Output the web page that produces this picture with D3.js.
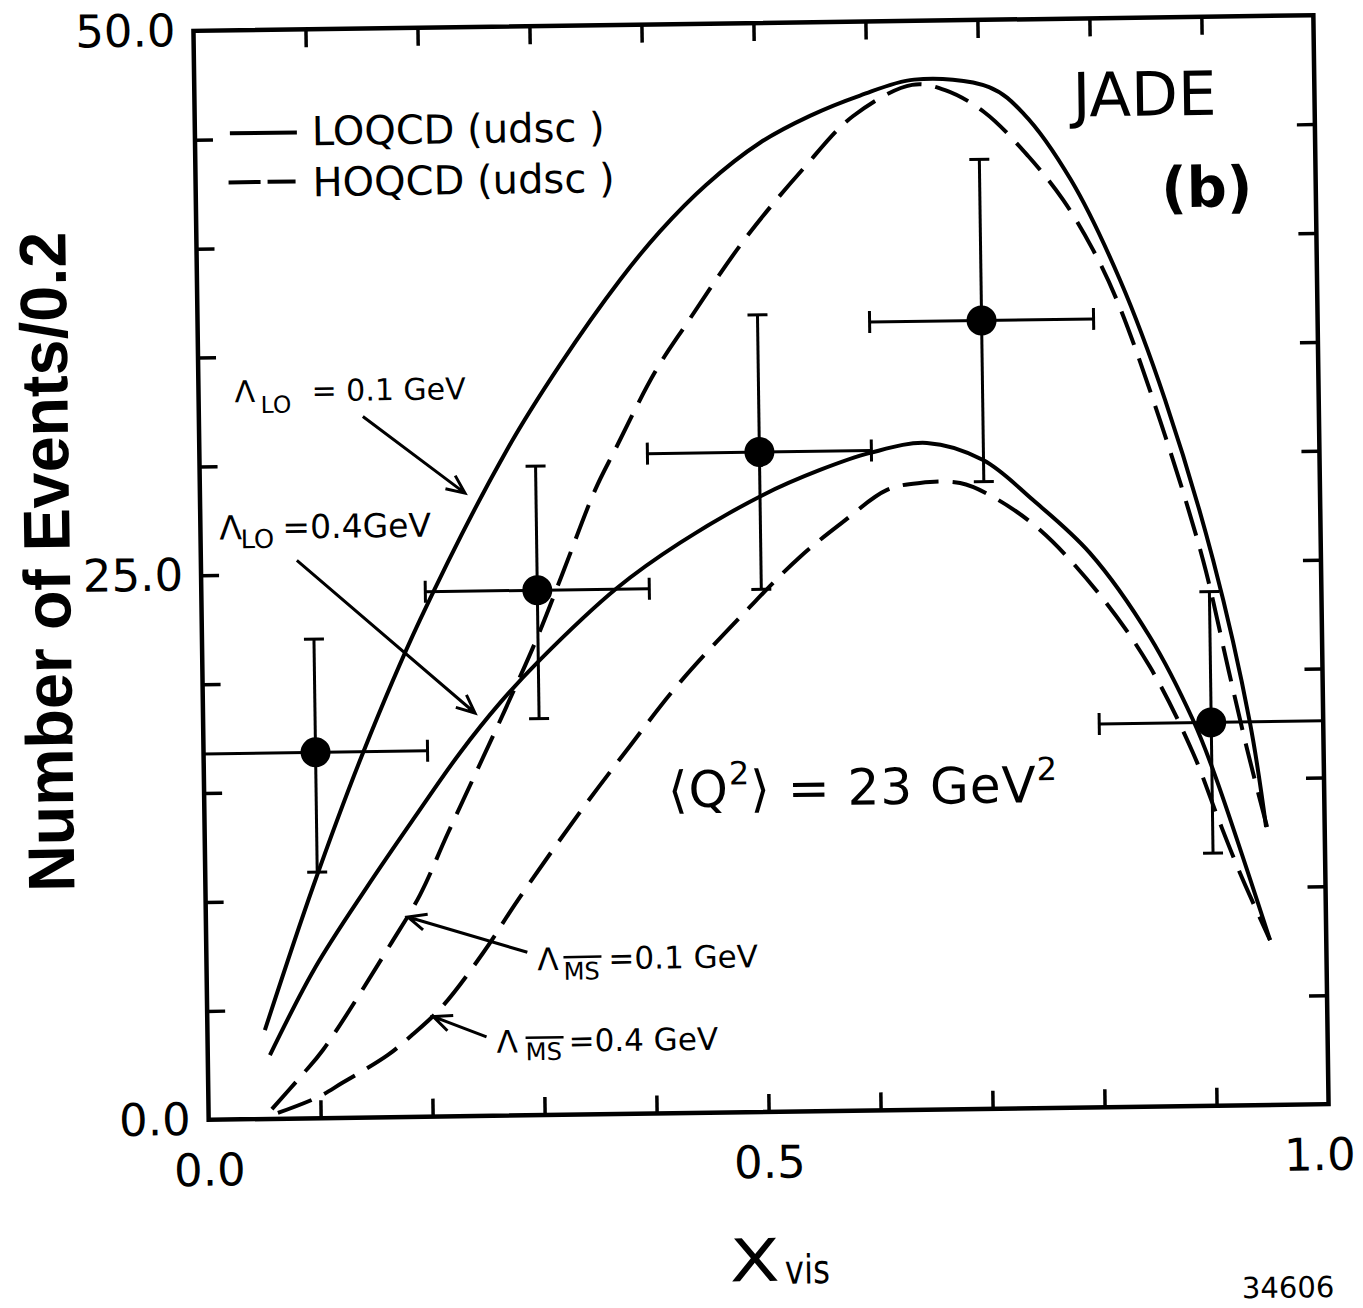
<!DOCTYPE html>
<html>
<head>
<meta charset="utf-8">
<script src="https://cdn.jsdelivr.net/npm/d3@7"></script>
<style>
	body { margin: 0; background: white; }
	svg { display: block; background: white; }
	text { font-family: "DejaVu Sans", sans-serif; fill: black; }
</style>
</head>
<body>
<svg id="chart" width="1363" height="1308"></svg>
<script>
// Measured points (X_vis, events / 0.2)
const pointX = [0.1, 0.3, 0.5, 0.7, 0.9];
const pointY = [16.8, 24.1, 30.3, 36.2, 17.6];
const pointYLow = [11.3, 18.2, 24.0, 28.8, 11.6];
const pointYHigh = [22.0, 29.8, 36.6, 43.6, 23.6];
const pointXLow = [0.0, 0.2, 0.4, 0.6, 0.8];
const pointXHigh = [0.2, 0.4, 0.6, 0.8, 1.0];

// LOQCD, Lambda_LO = 0.1 GeV (solid)
const lo01X = [0.0513, 0.0960, 0.1423, 0.1949, 0.2746, 0.3230, 0.3777, 0.4140, 0.4557, 0.5044, 0.5493, 0.5943, 0.6428, 0.7096, 0.7404, 0.7816, 0.8241, 0.8629, 0.9037, 0.9346, 0.9477];
const lo01Y = [4.08, 10.62, 16.74, 22.81, 30.56, 34.43, 38.29, 40.5, 42.6, 44.5, 45.7, 46.6, 47.3, 46.91, 45.65, 42.59, 37.97, 32.43, 25.05, 17.55, 12.76];

// HOQCD, Lambda_MS = 0.1 GeV (dashed)
const ho01X = [0.0566, 0.0838, 0.1029, 0.1658, 0.1914, 0.2172, 0.2696, 0.2991, 0.3222, 0.3528, 0.3711, 0.4078, 0.4370, 0.4897, 0.5425, 0.5879, 0.6409, 0.6703, 0.7048, 0.7436, 0.7743, 0.8004, 0.8221, 0.8580, 0.8947, 0.9165, 0.9325, 0.9486];
const ho01Y = [0.45, 1.99, 3.13, 8.04, 10.18, 13.01, 18.62, 21.90, 24.78, 28.66, 30.49, 34.04, 36.27, 40.09, 43.27, 45.67, 47.06, 46.80, 45.77, 43.72, 41.68, 39.37, 36.91, 31.51, 25.06, 19.90, 16.17, 12.76];

// LOQCD, Lambda_LO = 0.4 GeV (solid)
const lo04X = [0.0555, 0.0968, 0.1442, 0.1879, 0.2289, 0.2653, 0.3015, 0.3712, 0.4279, 0.5027, 0.5539, 0.5988, 0.6497, 0.6996, 0.7437, 0.7939, 0.8464, 0.8838, 0.9011, 0.9498];
const lo04Y = [2.93, 6.90, 10.58, 13.77, 16.68, 18.95, 20.90, 24.15, 26.18, 28.33, 29.44, 30.19, 30.61, 29.79, 27.92, 25.45, 21.56, 17.72, 15.41, 7.57];

// HOQCD, Lambda_MS = 0.4 GeV (dashed)
const ho04X = [0.0619, 0.0979, 0.1195, 0.1609, 0.1826, 0.2096, 0.2470, 0.2788, 0.3354, 0.3808, 0.4264, 0.4896, 0.5349, 0.5738, 0.6135, 0.6430, 0.6788, 0.7080, 0.7496, 0.8023, 0.8461, 0.8834, 0.9049, 0.9238, 0.9498];
const ho04Y = [0.27, 0.97, 1.60, 2.86, 3.76, 5.03, 7.48, 9.89, 13.89, 16.89, 19.79, 23.20, 25.46, 27.04, 28.48, 28.78, 28.75, 28.09, 26.54, 23.52, 20.18, 16.21, 13.20, 10.67, 7.57];

// Axis ticks
const xMinorTicks = [0.1, 0.2, 0.3, 0.4, 0.5, 0.6, 0.7, 0.8, 0.9];
const yMinorTicks = [5, 10, 15, 20, 25, 30, 35, 40, 45];
const xTickLabels = [0.0, 0.5, 1.0];
const yTickLabels = [0.0, 25.0, 50.0];

const legendLabels = ["LOQCD (udsc )", "HOQCD (udsc )"];

function drawChart(svgId) {
	const svg = d3.select(`#${svgId}`);

	// the scan is tilted a little, so the whole figure is drawn in a rotated group
	const g = svg.append("g").attr("transform", "rotate(-0.8, 761, 567)");

	const x = d3.scaleLinear().domain([0, 1]).range([201, 1321]);
	const y = d3.scaleLinear().domain([0, 50]).range([1112, 23]);

	// Ticks (inside the frame, all four sides)
	const tickLen = 18;
	g.append("g").attr("transform", `translate(0,${y(0)})`)
		.call(d3.axisBottom(x).tickValues(xMinorTicks).tickSize(-tickLen).tickFormat(""));
	g.append("g").attr("transform", `translate(0,${y(50)})`)
		.call(d3.axisTop(x).tickValues(xMinorTicks).tickSize(-tickLen).tickFormat(""));
	g.append("g").attr("transform", `translate(${x(0)},0)`)
		.call(d3.axisLeft(y).tickValues(yMinorTicks).tickSize(-tickLen).tickFormat(""));
	g.append("g").attr("transform", `translate(${x(1)},0)`)
		.call(d3.axisRight(y).tickValues(yMinorTicks).tickSize(-tickLen).tickFormat(""));

	// Tick labels
	const xLab = g.append("g").attr("transform", `translate(0,${y(0)})`)
		.call(d3.axisBottom(x).tickValues(xTickLabels).tickSize(0).tickPadding(34).tickFormat(d3.format(".1f")));
	g.append("g").attr("transform", `translate(${x(0)},0)`)
		.call(d3.axisLeft(y).tickValues(yTickLabels).tickSize(0).tickPadding(18).tickFormat(d3.format(".1f")));

	g.selectAll(".domain").remove();
	g.selectAll(".tick line").attr("stroke", "black").attr("stroke-width", 3.5);
	g.selectAll(".tick text")
		.attr("fill", "black")
		.style("font-family", "'DejaVu Sans', sans-serif")
		.style("font-size", "45px");
	// keep "1.0" inside the page
	xLab.selectAll(".tick text").filter((d) => d === 1).attr("dx", -10);

	// Frame
	g.append("rect")
		.attr("x", x(0)).attr("y", y(50))
		.attr("width", x(1) - x(0)).attr("height", y(0) - y(50))
		.attr("fill", "none").attr("stroke", "black").attr("stroke-width", 4.5);

	// Curves
	const line = d3.line()
		.x((d) => x(d[0]))
		.y((d) => y(d[1]))
		.curve(d3.curveCatmullRom.alpha(0.5));
	const curves = [
		{ pts: d3.zip(lo01X, lo01Y), dash: null },
		{ pts: d3.zip(ho01X, ho01Y), dash: "36,14" },
		{ pts: d3.zip(lo04X, lo04Y), dash: null },
		{ pts: d3.zip(ho04X, ho04Y), dash: "36,14" },
	];
	g.append("g").selectAll("path")
		.data(curves)
		.join("path")
		.attr("d", (d) => line(d.pts))
		.attr("fill", "none")
		.attr("stroke", "black")
		.attr("stroke-width", 4)
		.attr("stroke-dasharray", (d) => d.dash);

	// Data points with error bars
	const points = pointX.map((px, i) => ({
		x: px, y: pointY[i],
		yLo: pointYLow[i], yHi: pointYHigh[i],
		xLo: pointXLow[i], xHi: pointXHigh[i],
	}));
	const cap = 10;
	const eg = g.append("g").attr("stroke", "black").attr("stroke-width", 3);
	points.forEach((p) => {
		eg.append("line").attr("x1", x(p.x)).attr("x2", x(p.x)).attr("y1", y(p.yLo)).attr("y2", y(p.yHi));
		eg.append("line").attr("x1", x(p.xLo)).attr("x2", x(p.xHi)).attr("y1", y(p.y)).attr("y2", y(p.y));
		[p.yLo, p.yHi].forEach((v) => {
			eg.append("line").attr("x1", x(p.x) - cap).attr("x2", x(p.x) + cap).attr("y1", y(v)).attr("y2", y(v));
		});
		[p.xLo, p.xHi].filter((v) => v > 0 && v < 1).forEach((v) => {
			eg.append("line").attr("x1", x(v)).attr("x2", x(v)).attr("y1", y(p.y) - cap - 1).attr("y2", y(p.y) + cap + 1);
		});
	});
	g.append("g").selectAll("circle")
		.data(points)
		.join("circle")
		.attr("cx", (d) => x(d.x))
		.attr("cy", (d) => y(d.y))
		.attr("r", 15)
		.attr("fill", "black");

	// Legend
	const lg = g.append("g");
	lg.append("line").attr("x1", 236).attr("x2", 303).attr("y1", 126).attr("y2", 126)
		.attr("stroke", "black").attr("stroke-width", 4);
	lg.append("line").attr("x1", 234).attr("x2", 301).attr("y1", 175).attr("y2", 175)
		.attr("stroke", "black").attr("stroke-width", 4).attr("stroke-dasharray", "32,7");
	lg.selectAll("text")
		.data(legendLabels)
		.join("text")
		.attr("x", 318)
		.attr("y", (d, i) => 139 + i * 51)
		.style("font-size", "40px")
		.text((d) => d);

	// Experiment label
	g.append("text").attr("x", 1151).attr("y", 121).attr("text-anchor", "middle")
		.style("font-size", "61px").text("JADE");
	g.append("text").attr("x", 1212).attr("y", 213).attr("text-anchor", "middle")
		.style("font-size", "56px").style("font-weight", "bold").text("(b)");

	// Q^2 label
	const q = g.append("text").attr("x", 860).attr("y", 806).attr("text-anchor", "middle")
		.style("font-size", "50px").style("letter-spacing", "1px");
	q.append("tspan").text("\u27E8Q");
	q.append("tspan").attr("dy", -22).style("font-size", "32px").text("2");
	q.append("tspan").attr("dy", 22).text("\u27E9 = 23 GeV");
	q.append("tspan").attr("dy", -22).style("font-size", "32px").text("2");

	// Lambda annotations with arrows
	function lambdaLabel(x0, base, sub, subX, subBase, rest, restX, size, bar) {
		const t = g.append("text").style("font-size", `${size}px`);
		t.append("tspan").attr("x", x0).attr("y", base).text("\u039B");
		t.append("tspan").attr("x", subX).attr("y", subBase).style("font-size", `${size * 0.78}px`).text(sub);
		t.append("tspan").attr("x", restX).attr("y", base).text(rest);
		if (bar) {
			g.append("line").attr("x1", subX).attr("x2", subX + bar)
				.attr("y1", subBase - size * 0.78 * 0.73 - 5).attr("y2", subBase - size * 0.78 * 0.73 - 5)
				.attr("stroke", "black").attr("stroke-width", 2.5);
		}
	}
	function arrow(x1, y1, x2, y2) {
		const a = Math.atan2(y2 - y1, x2 - x1);
		const len = 20, spread = 0.42;
		const path = d3.path();
		path.moveTo(x1, y1);
		path.lineTo(x2, y2);
		path.moveTo(x2 - len * Math.cos(a - spread), y2 - len * Math.sin(a - spread));
		path.lineTo(x2, y2);
		path.lineTo(x2 - len * Math.cos(a + spread), y2 - len * Math.sin(a + spread));
		g.append("path").attr("d", path.toString())
			.attr("fill", "none").attr("stroke", "black").attr("stroke-width", 3);
	}

	lambdaLabel(237, 395, "LO", 263, 406, "= 0.1 GeV", 314, 30);
	arrow(365, 411, 466, 489);
	lambdaLabel(220, 532, "LO", 241, 541, "=0.4GeV", 283, 33);
	arrow(297, 554, 473, 709);
	lambdaLabel(532, 967, "MS", 558, 977, "=0.1 GeV", 603, 31, 38);
	arrow(522, 949, 403, 912);
	lambdaLabel(490, 1049, "MS", 519, 1057, "=0.4 GeV", 562, 31, 38);
	arrow(480, 1033, 427, 1012);

	// Axis titles
	g.append("text")
		.attr("transform", "translate(70,552) rotate(-90)")
		.attr("text-anchor", "middle")
		.attr("textLength", 660)
		.attr("lengthAdjust", "spacingAndGlyphs")
		.style("font-family", "'Liberation Sans', sans-serif")
		.style("font-weight", "bold")
		.style("font-size", "66px")
		.text("Number of Events/0.2");

	g.append("text").attr("x", 720).attr("y", 1281)
		.attr("textLength", 50).attr("lengthAdjust", "spacingAndGlyphs")
		.style("font-size", "59px").text("X");
	g.append("text").attr("x", 775).attr("y", 1284)
		.attr("textLength", 45).attr("lengthAdjust", "spacingAndGlyphs")
		.style("font-size", "40px").text("vis");

	g.append("text").attr("x", 1278).attr("y", 1305).attr("text-anchor", "middle")
		.style("font-size", "29px").text("34606");
}

drawChart("chart");
</script>
</body>
</html>
